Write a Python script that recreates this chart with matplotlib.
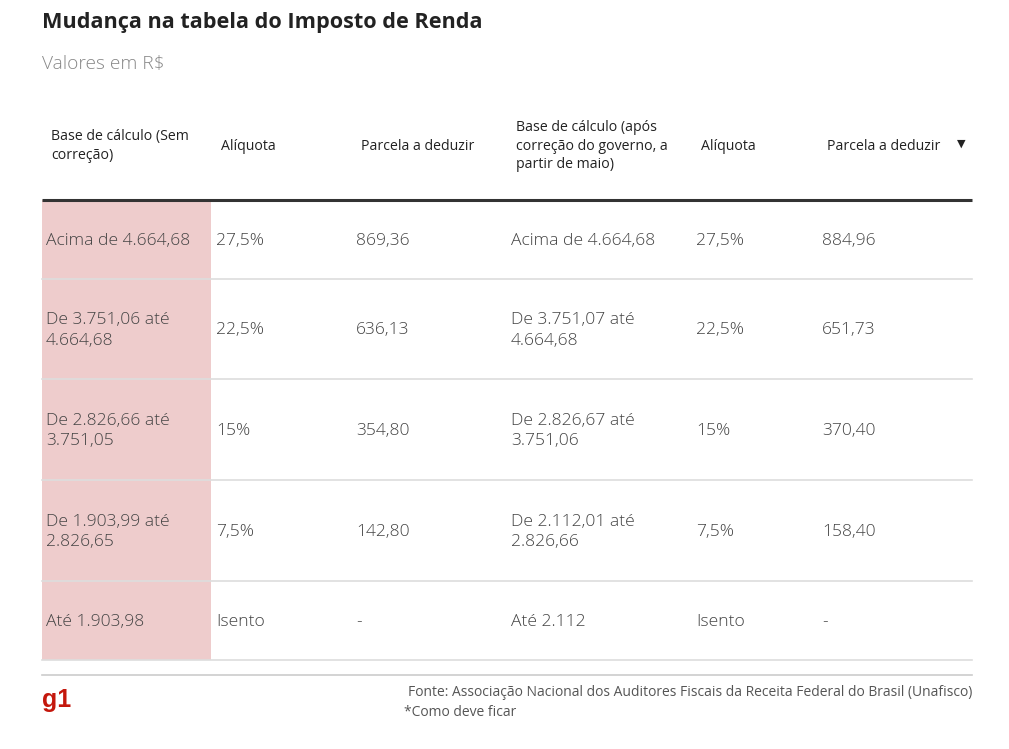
import matplotlib.pyplot as plt
from matplotlib.patches import Rectangle

#### table data ####

title = 'Mudança na tabela do Imposto de Renda'
subtitle = 'Valores em R$'
headers = ['Base de cálculo (Sem\ncorreção)', 'Alíquota', 'Parcela a deduzir',
           'Base de cálculo (após\ncorreção do governo, a\npartir de maio)', 'Alíquota', 'Parcela a deduzir']
base_antiga = ['Acima de 4.664,68', 'De 3.751,06 até\n4.664,68', 'De 2.826,66 até\n3.751,05',
               'De 1.903,99 até\n2.826,65', 'Até 1.903,98']
aliquota_antiga = ['27,5%', '22,5%', '15%', '7,5%', 'Isento']
parcela_antiga = ['869,36', '636,13', '354,80', '142,80', '-']
base_nova = ['Acima de 4.664,68', 'De 3.751,07 até\n4.664,68', 'De 2.826,67 até\n3.751,06',
             'De 2.112,01 até\n2.826,66', 'Até 2.112']
aliquota_nova = ['27,5%', '22,5%', '15%', '7,5%', 'Isento']
parcela_nova = ['884,96', '651,73', '370,40', '158,40', '-']
fonte = 'Fonte: Associação Nacional dos Auditores Fiscais da Receita Federal do Brasil (Unafisco)'
nota = '*Como deve ficar'

columns = [base_antiga, aliquota_antiga, parcela_antiga, base_nova, aliquota_nova, parcela_nova]

#### layout (pixels) ####

W, H = 1009, 749
left, right = 42, 972
header_x = [51, 221, 361, 516, 701, 827]
cell_x = [46, 216, 356, 511, 696, 822]
row_edges = [200, 279, 379, 480, 581, 660]

plt.rcParams['font.family'] = ['Open Sans', 'DejaVu Sans']

fig = plt.figure(figsize=(W / 100, H / 100), dpi=100)
ax = fig.add_axes([0, 0, 1, 1])
ax.set_xlim(0, W)
ax.set_ylim(H, 0)
ax.axis('off')

# titles
ax.text(left, 22.5, title, fontsize=15.6, fontweight='bold', color='#222222', va='center')
ax.text(left, 64.5, subtitle, fontsize=13.8, fontweight='light', color='#888888', va='center')

# highlighted first column
ax.add_patch(Rectangle((left, row_edges[0]), 211 - left, row_edges[-1] - row_edges[0],
                       facecolor='#eecccc', edgecolor='none', zorder=0))

# header
for x, h in zip(header_x, headers):
    ax.text(x, 146, h, fontsize=10.2, color='#222222', va='center', linespacing=1.35)
ax.text(961, 144, '▼', fontsize=8, color='#222222', va='center', ha='center', family='DejaVu Sans')
ax.plot([left, right], [row_edges[0], row_edges[0]], color='#333333', lw=2.2, solid_capstyle='butt')

# rows
for i in range(len(base_antiga)):
    yc = (row_edges[i] + row_edges[i + 1]) / 2 + 1.5
    for x, col in zip(cell_x, columns):
        ax.text(x, yc, col[i], fontsize=12.6, fontweight='light', color='#444444',
                va='center', linespacing=1.4)
    ax.plot([left, right], [row_edges[i + 1], row_edges[i + 1]], color='#dddddd', lw=1.2)

# footer
ax.plot([left, right], [675, 675], color='#cccccc', lw=1.2)
ax.text(left, 700, 'g1', fontsize=18, fontweight='bold', color='#c4170c', va='center',
        family=['Liberation Sans', 'DejaVu Sans'])
ax.text(right, 693, fonte, fontsize=10, color='#555555', va='center', ha='right')
ax.text(404, 713, nota, fontsize=10, color='#555555', va='center', ha='left')

fig.savefig('out.png', dpi=100)
